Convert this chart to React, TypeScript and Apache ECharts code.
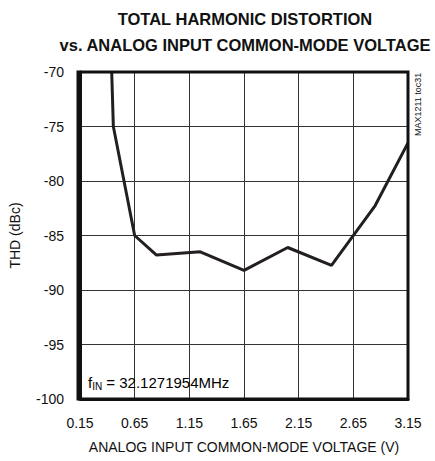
import React, { useEffect, useRef } from "react";
import * as echarts from "echarts";

const xValues = [0.44, 0.455, 0.65, 0.85, 1.25, 1.65, 2.05, 2.45, 2.85, 3.15];
const thdValues = [-70, -75, -85, -86.8, -86.5, -88.2, -86.1, -87.75, -82.25, -76.5];
const titleLines = ["TOTAL HARMONIC DISTORTION", "vs. ANALOG INPUT COMMON-MODE VOLTAGE"];

export default function App() {
  const ref = useRef<HTMLDivElement>(null);
  useEffect(() => {
    if (!ref.current) return;
    const chart = echarts.init(ref.current, null, { renderer: "svg" });
    const font = "'Liberation Sans', Arial, sans-serif";
    chart.setOption({
      animation: false,
      backgroundColor: "#fff",
      title: {
        text: titleLines.join("\n"),
        left: 240,
        textAlign: "center",
        top: 1,
        textStyle: {
          fontFamily: font,
          fontWeight: "bold",
          fontSize: 16.5,
          lineHeight: 26,
          color: "#111",
        },
      },
      grid: { left: 78, right: 27, top: 72, bottom: 62 },
      xAxis: {
        type: "value",
        min: 0.15,
        max: 3.15,
        interval: 0.5,
        name: "ANALOG INPUT COMMON-MODE VOLTAGE (V)",
        nameLocation: "middle",
        nameGap: 41,
        nameTextStyle: { fontFamily: font, fontSize: 14, color: "#111" },
        axisLine: { show: true, lineStyle: { color: "#111", width: 3 } },
        axisTick: { show: false },
        axisLabel: {
          fontFamily: font,
          fontSize: 14,
          color: "#111",
          margin: 17,
          formatter: (v: number) => v.toFixed(2),
        },
        splitLine: { show: true, lineStyle: { color: "#333", width: 1 } },
      },
      yAxis: {
        type: "value",
        min: -100,
        max: -70,
        interval: 5,
        name: "THD (dBc)",
        nameLocation: "middle",
        nameGap: 58,
        nameTextStyle: { fontFamily: font, fontSize: 14, color: "#111" },
        axisLine: { show: true, lineStyle: { color: "#111", width: 3 } },
        axisTick: { show: false },
        axisLabel: { fontFamily: font, fontSize: 14, color: "#111", margin: 16 },
        splitLine: { show: true, lineStyle: { color: "#333", width: 1 } },
      },
      graphic: [
        {
          type: "rect",
          shape: { x: 78, y: 72, width: 330, height: 327 },
          style: { fill: "none", stroke: "#111", lineWidth: 3 },
          silent: true,
          z: 10,
        },
        {
          type: "text",
          x: 88,
          y: 373,
          z: 11,
          style: {
            text: "{f|f}{s|IN}{f| = 32.1271954MHz}",
            fontFamily: font,
            rich: {
              f: { fontFamily: font, fontSize: 15, color: "#111" },
              s: { fontFamily: font, fontSize: 10, color: "#111", padding: [8, 0, 0, 0] },
            },
          },
        },
        {
          type: "text",
          x: 413,
          y: 136,
          rotation: Math.PI / 2,
          style: {
            text: "MAX1211 toc31",
            fontFamily: font,
            fontSize: 9,
            fill: "#111",
          },
        },
      ],
      series: [
        {
          type: "line",
          data: xValues.map((x, i) => [x, thdValues[i]]),
          symbol: "none",
          lineStyle: { color: "#231f20", width: 3 },
          z: 5,
        },
      ],
    });
    return () => chart.dispose();
  }, []);
  return <div ref={ref} style={{ width: 435, height: 461, position: "absolute", left: 0, top: 0 }} />;
}
